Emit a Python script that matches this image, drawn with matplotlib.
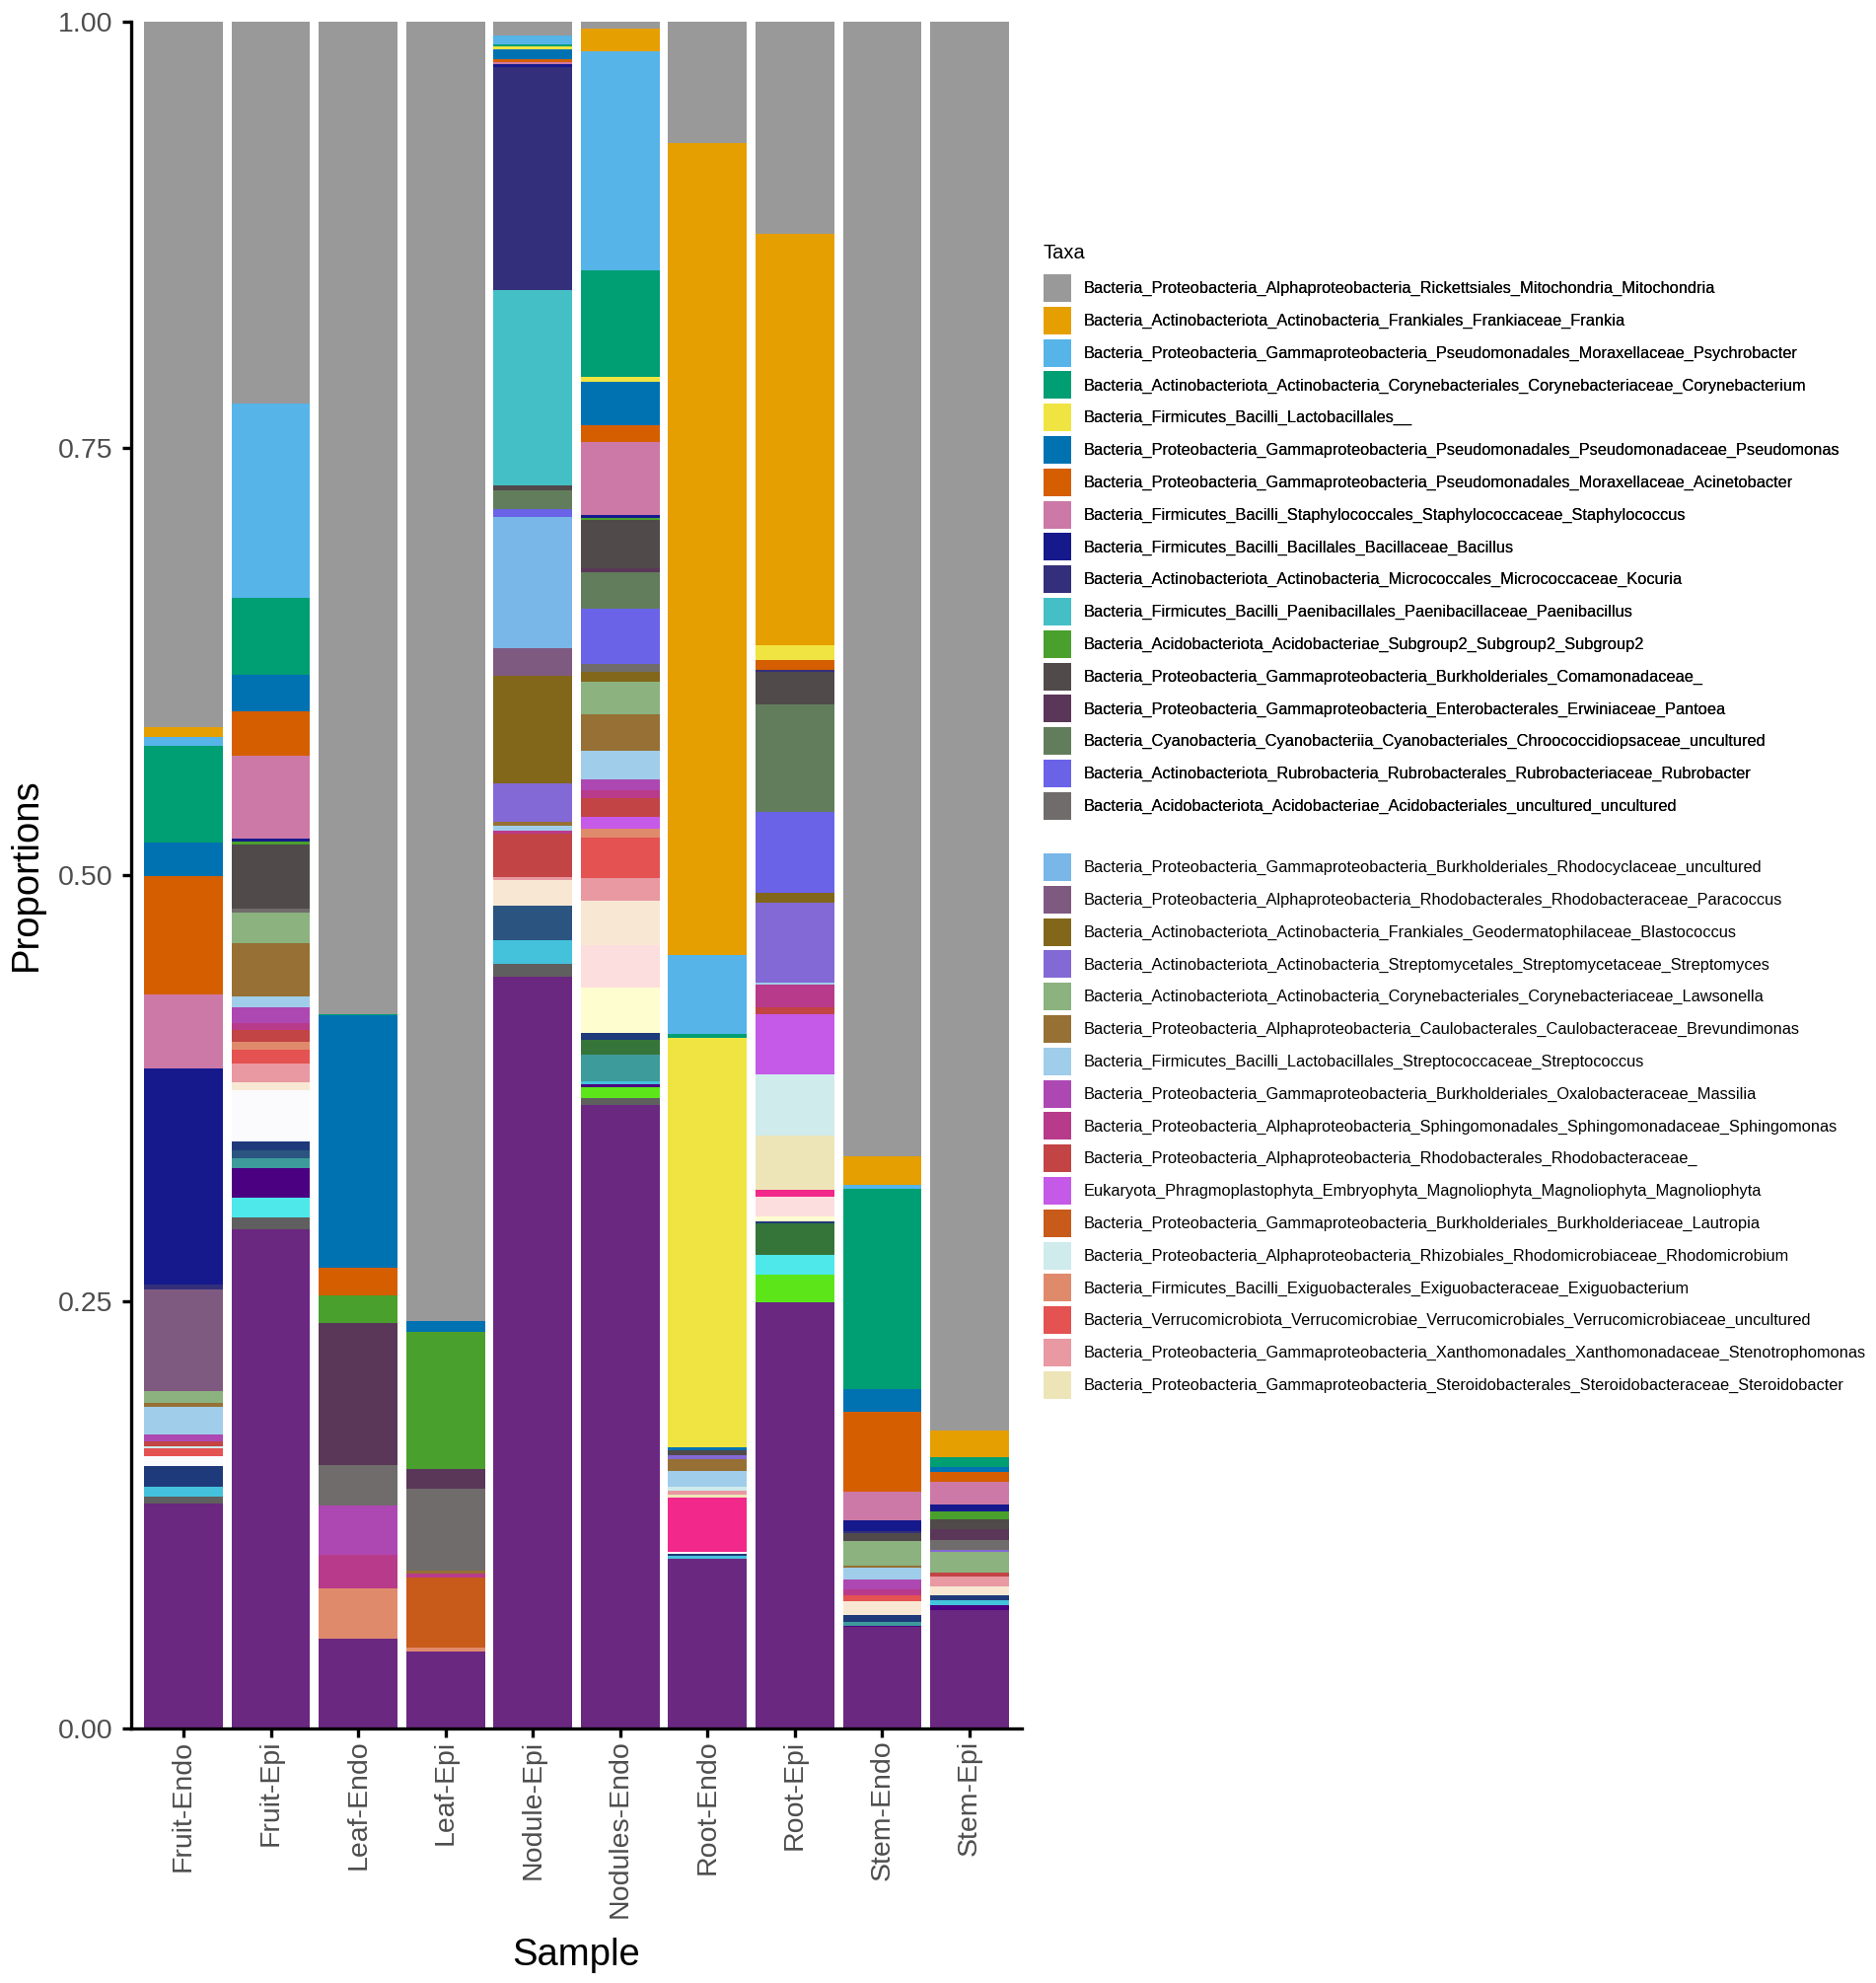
import matplotlib
matplotlib.use("Agg")
import matplotlib.pyplot as plt
import matplotlib.patches as mpatches
import numpy as np

plt.rcParams['font.family'] = ['Liberation Sans', 'DejaVu Sans']

samples = ["Fruit-Endo", "Fruit-Epi", "Leaf-Endo", "Leaf-Epi", "Nodule-Epi",
           "Nodules-Endo", "Root-Endo", "Root-Epi", "Stem-Endo", "Stem-Epi"]

# stacking order, top of the bar first (same as the legend)
taxa_keys = [
    "Mitochondria", "Frankia", "Psychrobacter", "Corynebacterium", "Lactobacillales",
    "Pseudomonas", "Acinetobacter", "Staphylococcus", "Bacillus", "Kocuria",
    "Paenibacillus", "Subgroup2", "Comamonadaceae", "Pantoea", "Chroococcidiopsaceae",
    "Rubrobacter", "Acidobacteriales",
    "Rhodocyclaceae", "Paracoccus", "Blastococcus", "Streptomyces", "Lawsonella",
    "Brevundimonas", "Streptococcus", "Massilia", "Sphingomonas", "Rhodobacteraceae",
    "Magnoliophyta", "Lautropia", "Rhodomicrobium", "Exiguobacterium",
    "Verrucomicrobiaceae", "Stenotrophomonas", "Steroidobacter",
    # taxa that are not listed in the legend
    "unlisted_01", "unlisted_02", "unlisted_03", "unlisted_04", "unlisted_05",
    "unlisted_06", "unlisted_07", "unlisted_08", "unlisted_09", "unlisted_10",
    "unlisted_11", "unlisted_12", "unlisted_13", "unlisted_14", "unlisted_15",
]

legend_labels = [
    "Bacteria_Proteobacteria_Alphaproteobacteria_Rickettsiales_Mitochondria_Mitochondria",
    "Bacteria_Actinobacteriota_Actinobacteria_Frankiales_Frankiaceae_Frankia",
    "Bacteria_Proteobacteria_Gammaproteobacteria_Pseudomonadales_Moraxellaceae_Psychrobacter",
    "Bacteria_Actinobacteriota_Actinobacteria_Corynebacteriales_Corynebacteriaceae_Corynebacterium",
    "Bacteria_Firmicutes_Bacilli_Lactobacillales__",
    "Bacteria_Proteobacteria_Gammaproteobacteria_Pseudomonadales_Pseudomonadaceae_Pseudomonas",
    "Bacteria_Proteobacteria_Gammaproteobacteria_Pseudomonadales_Moraxellaceae_Acinetobacter",
    "Bacteria_Firmicutes_Bacilli_Staphylococcales_Staphylococcaceae_Staphylococcus",
    "Bacteria_Firmicutes_Bacilli_Bacillales_Bacillaceae_Bacillus",
    "Bacteria_Actinobacteriota_Actinobacteria_Micrococcales_Micrococcaceae_Kocuria",
    "Bacteria_Firmicutes_Bacilli_Paenibacillales_Paenibacillaceae_Paenibacillus",
    "Bacteria_Acidobacteriota_Acidobacteriae_Subgroup2_Subgroup2_Subgroup2",
    "Bacteria_Proteobacteria_Gammaproteobacteria_Burkholderiales_Comamonadaceae_",
    "Bacteria_Proteobacteria_Gammaproteobacteria_Enterobacterales_Erwiniaceae_Pantoea",
    "Bacteria_Cyanobacteria_Cyanobacteriia_Cyanobacteriales_Chroococcidiopsaceae_uncultured",
    "Bacteria_Actinobacteriota_Rubrobacteria_Rubrobacterales_Rubrobacteriaceae_Rubrobacter",
    "Bacteria_Acidobacteriota_Acidobacteriae_Acidobacteriales_uncultured_uncultured",
    "Bacteria_Proteobacteria_Gammaproteobacteria_Burkholderiales_Rhodocyclaceae_uncultured",
    "Bacteria_Proteobacteria_Alphaproteobacteria_Rhodobacterales_Rhodobacteraceae_Paracoccus",
    "Bacteria_Actinobacteriota_Actinobacteria_Frankiales_Geodermatophilaceae_Blastococcus",
    "Bacteria_Actinobacteriota_Actinobacteria_Streptomycetales_Streptomycetaceae_Streptomyces",
    "Bacteria_Actinobacteriota_Actinobacteria_Corynebacteriales_Corynebacteriaceae_Lawsonella",
    "Bacteria_Proteobacteria_Alphaproteobacteria_Caulobacterales_Caulobacteraceae_Brevundimonas",
    "Bacteria_Firmicutes_Bacilli_Lactobacillales_Streptococcaceae_Streptococcus",
    "Bacteria_Proteobacteria_Gammaproteobacteria_Burkholderiales_Oxalobacteraceae_Massilia",
    "Bacteria_Proteobacteria_Alphaproteobacteria_Sphingomonadales_Sphingomonadaceae_Sphingomonas",
    "Bacteria_Proteobacteria_Alphaproteobacteria_Rhodobacterales_Rhodobacteraceae_",
    "Eukaryota_Phragmoplastophyta_Embryophyta_Magnoliophyta_Magnoliophyta_Magnoliophyta",
    "Bacteria_Proteobacteria_Gammaproteobacteria_Burkholderiales_Burkholderiaceae_Lautropia",
    "Bacteria_Proteobacteria_Alphaproteobacteria_Rhizobiales_Rhodomicrobiaceae_Rhodomicrobium",
    "Bacteria_Firmicutes_Bacilli_Exiguobacterales_Exiguobacteraceae_Exiguobacterium",
    "Bacteria_Verrucomicrobiota_Verrucomicrobiae_Verrucomicrobiales_Verrucomicrobiaceae_uncultured",
    "Bacteria_Proteobacteria_Gammaproteobacteria_Xanthomonadales_Xanthomonadaceae_Stenotrophomonas",
    "Bacteria_Proteobacteria_Gammaproteobacteria_Steroidobacterales_Steroidobacteraceae_Steroidobacter",
]

taxa_colors = [
    "#999999", "#E69F00", "#56B4E9", "#009E73", "#F0E442", "#0072B2", "#D55E00",
    "#CC79A7", "#16198C", "#342F7B", "#45BFC6", "#4AA02C", "#504A4B", "#5A3758",
    "#627D5B", "#6A63E8", "#706C6B",
    "#78B7E8", "#7F5A80", "#82661A", "#8369D5", "#8BB27F", "#967034", "#A0CDEA",
    "#AD48B3", "#B83B8B", "#C24444", "#C55AE8", "#C85A1A", "#CFEBEB", "#E08A6C",
    "#E45252", "#E899A2", "#EDE5B8",
    "#F2288A", "#F8E8D3", "#FBFAFD", "#FCDEDE", "#FEFDD0", "#1F3A7A", "#2B5580",
    "#35753A", "#3D9B9B", "#44C2DC", "#4B0082", "#4EE8EA", "#5CE61A", "#5F5F5F",
    "#6A2880",
]

fruit_endo = {"Mitochondria": 0.4136, "Frankia": 0.0059, "Psychrobacter": 0.0051,
              "Corynebacterium": 0.0563, "Pseudomonas": 0.0197, "Acinetobacter": 0.0693,
              "Staphylococcus": 0.0437, "Bacillus": 0.1267, "Kocuria": 0.0028,
              "Paracoccus": 0.0594, "Lawsonella": 0.0067, "Brevundimonas": 0.0024,
              "Streptococcus": 0.0165, "Massilia": 0.0039, "Rhodobacteraceae": 0.0028,
              "Rhodomicrobium": 0.0012, "Verrucomicrobiaceae": 0.0047,
              "unlisted_03": 0.0059, "unlisted_06": 0.0118, "unlisted_10": 0.0059,
              "unlisted_14": 0.0039, "unlisted_15": 0.1318}

fruit_epi = {"Mitochondria": 0.2239, "Psychrobacter": 0.1138, "Corynebacterium": 0.0454,
             "Pseudomonas": 0.0214, "Acinetobacter": 0.0256, "Staphylococcus": 0.0488,
             "Bacillus": 0.0016, "Subgroup2": 0.0020, "Comamonadaceae": 0.0374,
             "Acidobacteriales": 0.0024, "Lawsonella": 0.0177, "Brevundimonas": 0.0315,
             "Streptococcus": 0.0063, "Massilia": 0.0091, "Sphingomonas": 0.0039,
             "Rhodobacteraceae": 0.0071, "Exiguobacterium": 0.0047,
             "Verrucomicrobiaceae": 0.0079, "Stenotrophomonas": 0.0110,
             "unlisted_02": 0.0047, "unlisted_03": 0.0303, "unlisted_06": 0.0051,
             "unlisted_07": 0.0043, "unlisted_09": 0.0059, "unlisted_11": 0.0173,
             "unlisted_12": 0.0118, "unlisted_14": 0.0071, "unlisted_15": 0.2920}

leaf_endo = {"Mitochondria": 0.5815, "Corynebacterium": 0.0008, "Pseudomonas": 0.1480,
             "Acinetobacter": 0.0163, "Subgroup2": 0.0160, "Pantoea": 0.0830,
             "Acidobacteriales": 0.0240, "Massilia": 0.0291, "Sphingomonas": 0.0192,
             "Exiguobacterium": 0.0295, "unlisted_15": 0.0526}

leaf_epi = {"Mitochondria": 0.7616, "Pseudomonas": 0.0061, "Subgroup2": 0.0804,
            "Pantoea": 0.0119, "Acidobacteriales": 0.0480, "Brevundimonas": 0.0016,
            "Sphingomonas": 0.0022, "Lautropia": 0.0410, "Exiguobacterium": 0.0026,
            "unlisted_15": 0.0446}

nodule_epi = {"Mitochondria": 0.0081, "Psychrobacter": 0.0055, "Corynebacterium": 0.0011,
              "Lactobacillales": 0.0018, "Pseudomonas": 0.0055, "Acinetobacter": 0.0018,
              "Staphylococcus": 0.0015, "Bacillus": 0.0015, "Kocuria": 0.1308,
              "Paenibacillus": 0.1145, "Comamonadaceae": 0.0026,
              "Chroococcidiopsaceae": 0.0111, "Rubrobacter": 0.0044,
              "Rhodocyclaceae": 0.0772, "Paracoccus": 0.0159, "Blastococcus": 0.0632,
              "Streptomyces": 0.0225, "Brevundimonas": 0.0022, "Streptococcus": 0.0030,
              "Sphingomonas": 0.0018, "Rhodobacteraceae": 0.0251,
              "Stenotrophomonas": 0.0022, "unlisted_02": 0.0148, "unlisted_07": 0.0200,
              "unlisted_10": 0.0140, "unlisted_14": 0.0074, "unlisted_15": 0.4405}

nodules_endo = {"Mitochondria": 0.0044, "Frankia": 0.0133, "Psychrobacter": 0.1282,
                "Corynebacterium": 0.0621, "Lactobacillales": 0.0033, "Pseudomonas": 0.0251,
                "Acinetobacter": 0.0103, "Staphylococcus": 0.0425, "Bacillus": 0.0015,
                "Subgroup2": 0.0015, "Comamonadaceae": 0.0281, "Pantoea": 0.0026,
                "Chroococcidiopsaceae": 0.0211, "Rubrobacter": 0.0325,
                "Acidobacteriales": 0.0044, "Blastococcus": 0.0059, "Lawsonella": 0.0192,
                "Brevundimonas": 0.0211, "Streptococcus": 0.0170, "Massilia": 0.0063,
                "Sphingomonas": 0.0048, "Rhodobacteraceae": 0.0111, "Magnoliophyta": 0.0070,
                "Exiguobacterium": 0.0048, "Verrucomicrobiaceae": 0.0240,
                "Stenotrophomonas": 0.0133, "unlisted_02": 0.0259, "unlisted_04": 0.0248,
                "unlisted_05": 0.0266, "unlisted_06": 0.0043, "unlisted_08": 0.0085,
                "unlisted_09": 0.0156, "unlisted_10": 0.0014, "unlisted_11": 0.0020,
                "unlisted_13": 0.0062, "unlisted_14": 0.0043, "unlisted_15": 0.3650}

root_endo = {"Mitochondria": 0.0714, "Frankia": 0.4756, "Psychrobacter": 0.0462,
             "Corynebacterium": 0.0021, "Lactobacillales": 0.2399, "Pseudomonas": 0.0020,
             "Comamonadaceae": 0.0029, "Streptomyces": 0.0025, "Brevundimonas": 0.0070,
             "Streptococcus": 0.0091, "Rhodomicrobium": 0.0025, "Stenotrophomonas": 0.0020,
             "Steroidobacter": 0.0020, "unlisted_01": 0.0317, "unlisted_03": 0.0008,
             "unlisted_06": 0.0012, "unlisted_10": 0.0020, "unlisted_15": 0.0991}

root_epi = {"Mitochondria": 0.1243, "Frankia": 0.2410, "Lactobacillales": 0.0090,
            "Acinetobacter": 0.0054, "Kocuria": 0.0012, "Comamonadaceae": 0.0194,
            "Chroococcidiopsaceae": 0.0631, "Rubrobacter": 0.0470, "Blastococcus": 0.0062,
            "Streptomyces": 0.0466, "Streptococcus": 0.0012, "Sphingomonas": 0.0132,
            "Rhodobacteraceae": 0.0041, "Magnoliophyta": 0.0350, "Rhodomicrobium": 0.0359,
            "Steroidobacter": 0.0322, "unlisted_01": 0.0037, "unlisted_04": 0.0115,
            "unlisted_05": 0.0033, "unlisted_06": 0.0012, "unlisted_08": 0.0181,
            "unlisted_12": 0.0115, "unlisted_13": 0.0165, "unlisted_15": 0.2494}

stem_endo = {"Mitochondria": 0.6647, "Frankia": 0.0171, "Psychrobacter": 0.0023,
             "Corynebacterium": 0.1170, "Pseudomonas": 0.0137, "Acinetobacter": 0.0467,
             "Staphylococcus": 0.0164, "Bacillus": 0.0064, "Kocuria": 0.0016,
             "Comamonadaceae": 0.0046, "Lawsonella": 0.0141, "Brevundimonas": 0.0011,
             "Streptococcus": 0.0071, "Massilia": 0.0057, "Sphingomonas": 0.0034,
             "Verrucomicrobiaceae": 0.0034, "unlisted_02": 0.0084, "unlisted_06": 0.0039,
             "unlisted_09": 0.0023, "unlisted_11": 0.0009, "unlisted_15": 0.0591}

stem_epi = {"Mitochondria": 0.8254, "Frankia": 0.0160, "Corynebacterium": 0.0057,
            "Pseudomonas": 0.0030, "Acinetobacter": 0.0057, "Staphylococcus": 0.0130,
            "Bacillus": 0.0041, "Subgroup2": 0.0050, "Comamonadaceae": 0.0057,
            "Pantoea": 0.0062, "Acidobacteriales": 0.0059, "Streptomyces": 0.0011,
            "Lawsonella": 0.0119, "Rhodobacteraceae": 0.0023, "Stenotrophomonas": 0.0062,
            "unlisted_02": 0.0048, "unlisted_06": 0.0032, "unlisted_10": 0.0030,
            "unlisted_11": 0.0027, "unlisted_15": 0.0691}

sample_data = [fruit_endo, fruit_epi, leaf_endo, leaf_epi, nodule_epi,
               nodules_endo, root_endo, root_epi, stem_endo, stem_epi]


def main():
    props = np.array([[d.get(k, 0.0) for d in sample_data] for k in taxa_keys])
    x = np.arange(1, len(samples) + 1)

    fig = plt.figure(figsize=(19.02, 20.10), dpi=100)
    ax = fig.add_axes([133 / 1902, 1 - 1751.6 / 2010, (1036 - 133) / 1902,
                       (1751.6 - 21.7) / 2010])

    # ggplot stacks the first level on top, so draw from the last taxon up
    bottom = np.zeros(len(samples))
    for i in range(len(taxa_keys) - 1, -1, -1):
        ax.bar(x, props[i], bottom=bottom, width=0.9,
               color=taxa_colors[i], linewidth=0)
        bottom += props[i]

    ax.set_xlim(0.4, len(samples) + 0.6)
    ax.set_ylim(0, 1)
    ax.set_xticks(x)
    ax.set_xticklabels(samples, rotation=90, va='top', ha='center')
    ax.set_yticks([0, 0.25, 0.5, 0.75, 1.0])
    ax.set_yticklabels(['0.00', '0.25', '0.50', '0.75', '1.00'])

    for side in ['top', 'right']:
        ax.spines[side].set_visible(False)
    for side in ['left', 'bottom']:
        ax.spines[side].set_linewidth(2.4)
        ax.spines[side].set_color('black')
    ax.tick_params(axis='both', width=2.4, length=6.5, color='black',
                   labelsize=20.5, labelcolor='#4D4D4D')
    ax.tick_params(axis='y', pad=7)
    ax.tick_params(axis='x', pad=2)

    ax.set_xlabel('Sample', fontsize=27.5, labelpad=14)
    ax.set_ylabel('Proportions', fontsize=27.5, labelpad=10)

    # legend split in two blocks like the original
    handles = [mpatches.Patch(facecolor=taxa_colors[i], edgecolor='none',
                              label=legend_labels[i]) for i in range(len(legend_labels))]
    fs = 11.8
    fpx = fs * 100 / 72
    key = 28 / fpx
    # matplotlib trims a descent off the patch height, so compensate for a 28px key
    hh = (key - 0.245) / 0.65
    leg_kw = dict(frameon=False, fontsize=fs, handlelength=key,
                  handleheight=hh, labelspacing=4.8 / fpx,
                  handletextpad=13 / fpx, borderpad=0, borderaxespad=0,
                  alignment='left', loc='upper left')
    fig.text(1058 / 1902, 1 - 256 / 2010, 'Taxa', fontsize=14.5, va='center', ha='left')
    leg1 = fig.legend(handles=handles[:17],
                      bbox_to_anchor=(1058 / 1902, 1 - 278 / 2010), **leg_kw)
    fig.add_artist(leg1)
    fig.legend(handles=handles[17:], bbox_to_anchor=(1058 / 1902, 1 - 865 / 2010),
               **leg_kw)

    fig.savefig('out.png', dpi=100, facecolor='white')


if __name__ == '__main__':
    main()
